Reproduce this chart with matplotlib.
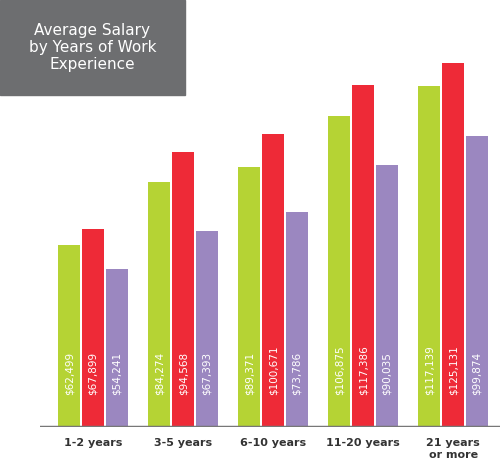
import matplotlib.pyplot as plt
import numpy as np

categories = ["1-2 years", "3-5 years", "6-10 years", "11-20 years", "21 years\nor more"]
series_a = [62499, 84274, 89371, 106875, 117139]
series_b = [67899, 94568, 100671, 117386, 125131]
series_c = [54241, 67393, 73786, 90035, 99874]
colors = ["#b5d334", "#ee2a37", "#9b87c0"]

fig = plt.figure(figsize=(5, 4.74), dpi=100)
ax = fig.add_axes([0.08, 0.099, 0.92, 0.901])

x = np.arange(len(categories))
w = 0.245
for off, vals, c in zip([-0.265, 0, 0.265], [series_a, series_b, series_c], colors):
    ax.bar(x + off, vals, width=w, color=c)
    for xi, v in zip(x + off, vals):
        ax.text(xi, 11000, f"${v:,}", rotation=90, color="white",
                ha="center", va="bottom", fontsize=7.5)

ax.set_xlim(-0.59, 4.52)
ax.set_ylim(0, 146700)
for s in ax.spines.values():
    s.set_visible(False)
ax.axhline(0, color="#777777", lw=2.5)
ax.set_yticks([])
ax.set_xticks(x)
ax.set_xticklabels(categories, fontsize=8, fontweight="bold", color="#333333")
ax.tick_params(axis="x", length=0, pad=8)

fig.patches.append(plt.Rectangle((0, 0.8), 0.37, 0.2, transform=fig.transFigure,
                                 color="#6d6e70", zorder=0))
fig.text(0.185, 0.9, "Average Salary\nby Years of Work\nExperience", color="white",
         ha="center", va="center", fontsize=11, linespacing=1.2)

fig.savefig("out.png", dpi=100)
